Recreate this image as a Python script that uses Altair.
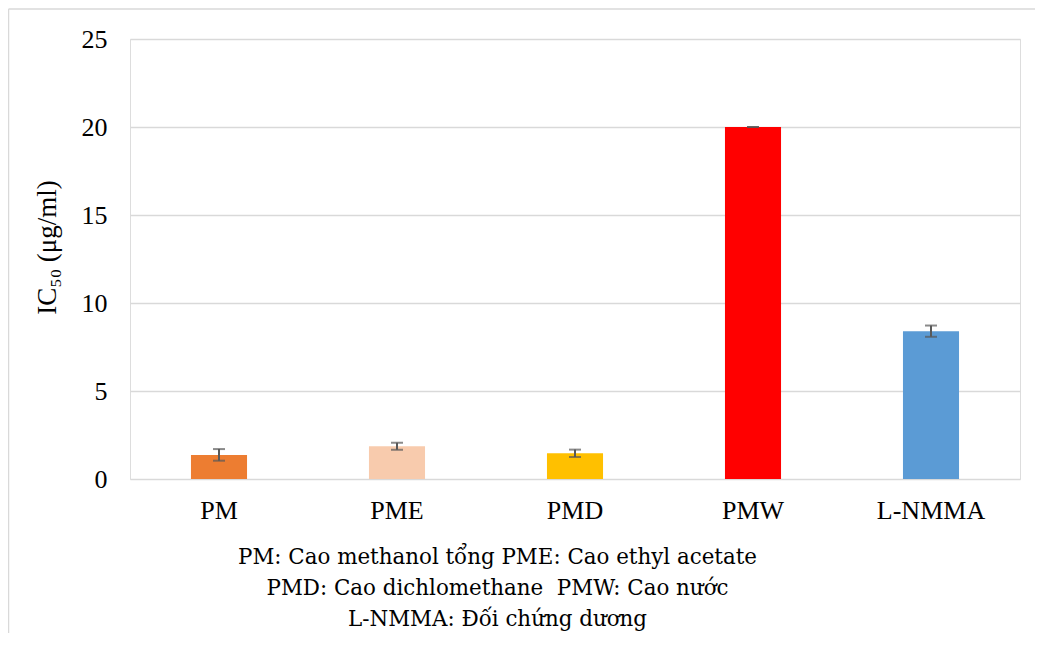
import altair as alt
import pandas as pd

categories = ["PM", "PME", "PMD", "PMW", "L-NMMA"]
values = [1.37, 1.86, 1.46, 20.0, 8.40]
errors = [0.33, 0.20, 0.21, 0.0, 0.32]
colors = ["#ED7D31", "#F8CBAD", "#FFC000", "#FF0000", "#5B9BD5"]
y_ticks = [0, 5, 10, 15, 20, 25]
caption = [
    "PM: Cao methanol tổng PME: Cao ethyl acetate",
    "PMD: Cao dichlomethane \u00a0PMW: Cao nước",
    "L-NMMA: Đối chứng dương",
]

df = pd.DataFrame({
    "cat": categories,
    "val": values,
    "lo": [v - e for v, e in zip(values, errors)],
    "hi": [v + e for v, e in zip(values, errors)],
})

FONT = "Liberation Serif"
CAP_FONT = "DejaVu Serif"

x_enc = alt.X("cat:N", sort=categories,
              scale=alt.Scale(paddingInner=0.685, paddingOuter=0.3425),
              axis=alt.Axis(title=caption, labelAngle=0, ticks=False, domain=False,
                            labelFont=FONT, labelFontSize=26, labelColor="#000000",
                            labelPadding=18, grid=False,
                            titleFont=CAP_FONT, titleFontSize=21.4, titleFontWeight="normal",
                            titleColor="#000000", titleLineHeight=31,
                            titleX=367, titleY=84, titleAlign="center",
                            titleBaseline="alphabetic", titleAnchor="start"))
y_scale = alt.Scale(domain=[0, 25], nice=False)

base = alt.Chart(df)

bars = base.mark_bar().encode(
    x=x_enc,
    y=alt.Y("val:Q", scale=y_scale,
            axis=alt.Axis(values=y_ticks, title="IC₅₀ (μg/ml)", ticks=False, domain=False,
                          gridColor="#D9D9D9", gridWidth=1.3,
                          labelFont=FONT, labelFontSize=26, labelColor="#000000",
                          labelPadding=23,
                          titleFont=FONT, titleFontSize=27, titleFontWeight="normal",
                          titleColor="#000000", titleX=-83, titleY=208,
                          titleAngle=270, titleAlign="center", titleBaseline="middle")),
    color=alt.Color("cat:N", sort=categories,
                    scale=alt.Scale(domain=categories, range=colors), legend=None),
)

rules = base.mark_rule(color="#595959", strokeWidth=2).encode(
    x=alt.X("cat:N", sort=categories), y="lo:Q", y2="hi:Q")
caps_lo = base.mark_tick(color="#595959", size=12, thickness=2).encode(
    x=alt.X("cat:N", sort=categories), y="lo:Q")
caps_hi = base.mark_tick(color="#595959", size=12, thickness=2).encode(
    x=alt.X("cat:N", sort=categories), y="hi:Q")

one = pd.DataFrame({"a": [0]})
border_left = alt.Chart(one).mark_rule(color="#D9D9D9", strokeWidth=1.5).encode(
    x=alt.value(-121.5), y=alt.value(-30), y2=alt.value(600))
border_top = alt.Chart(one).mark_rule(color="#D9D9D9", strokeWidth=1.5).encode(
    x=alt.value(-121.5), x2=alt.value(910), y=alt.value(-30))

chart = alt.layer(border_left, border_top, bars, rules, caps_lo, caps_hi).properties(
    width=890, height=440,
    autosize=alt.AutoSizeParams(type="none"),
    padding={"left": 122, "top": 31, "right": 15, "bottom": 154},
).configure_view(stroke=None).configure(background="#FFFFFF")

chart.save("out.html", embed_options={"renderer": "svg", "actions": False})
